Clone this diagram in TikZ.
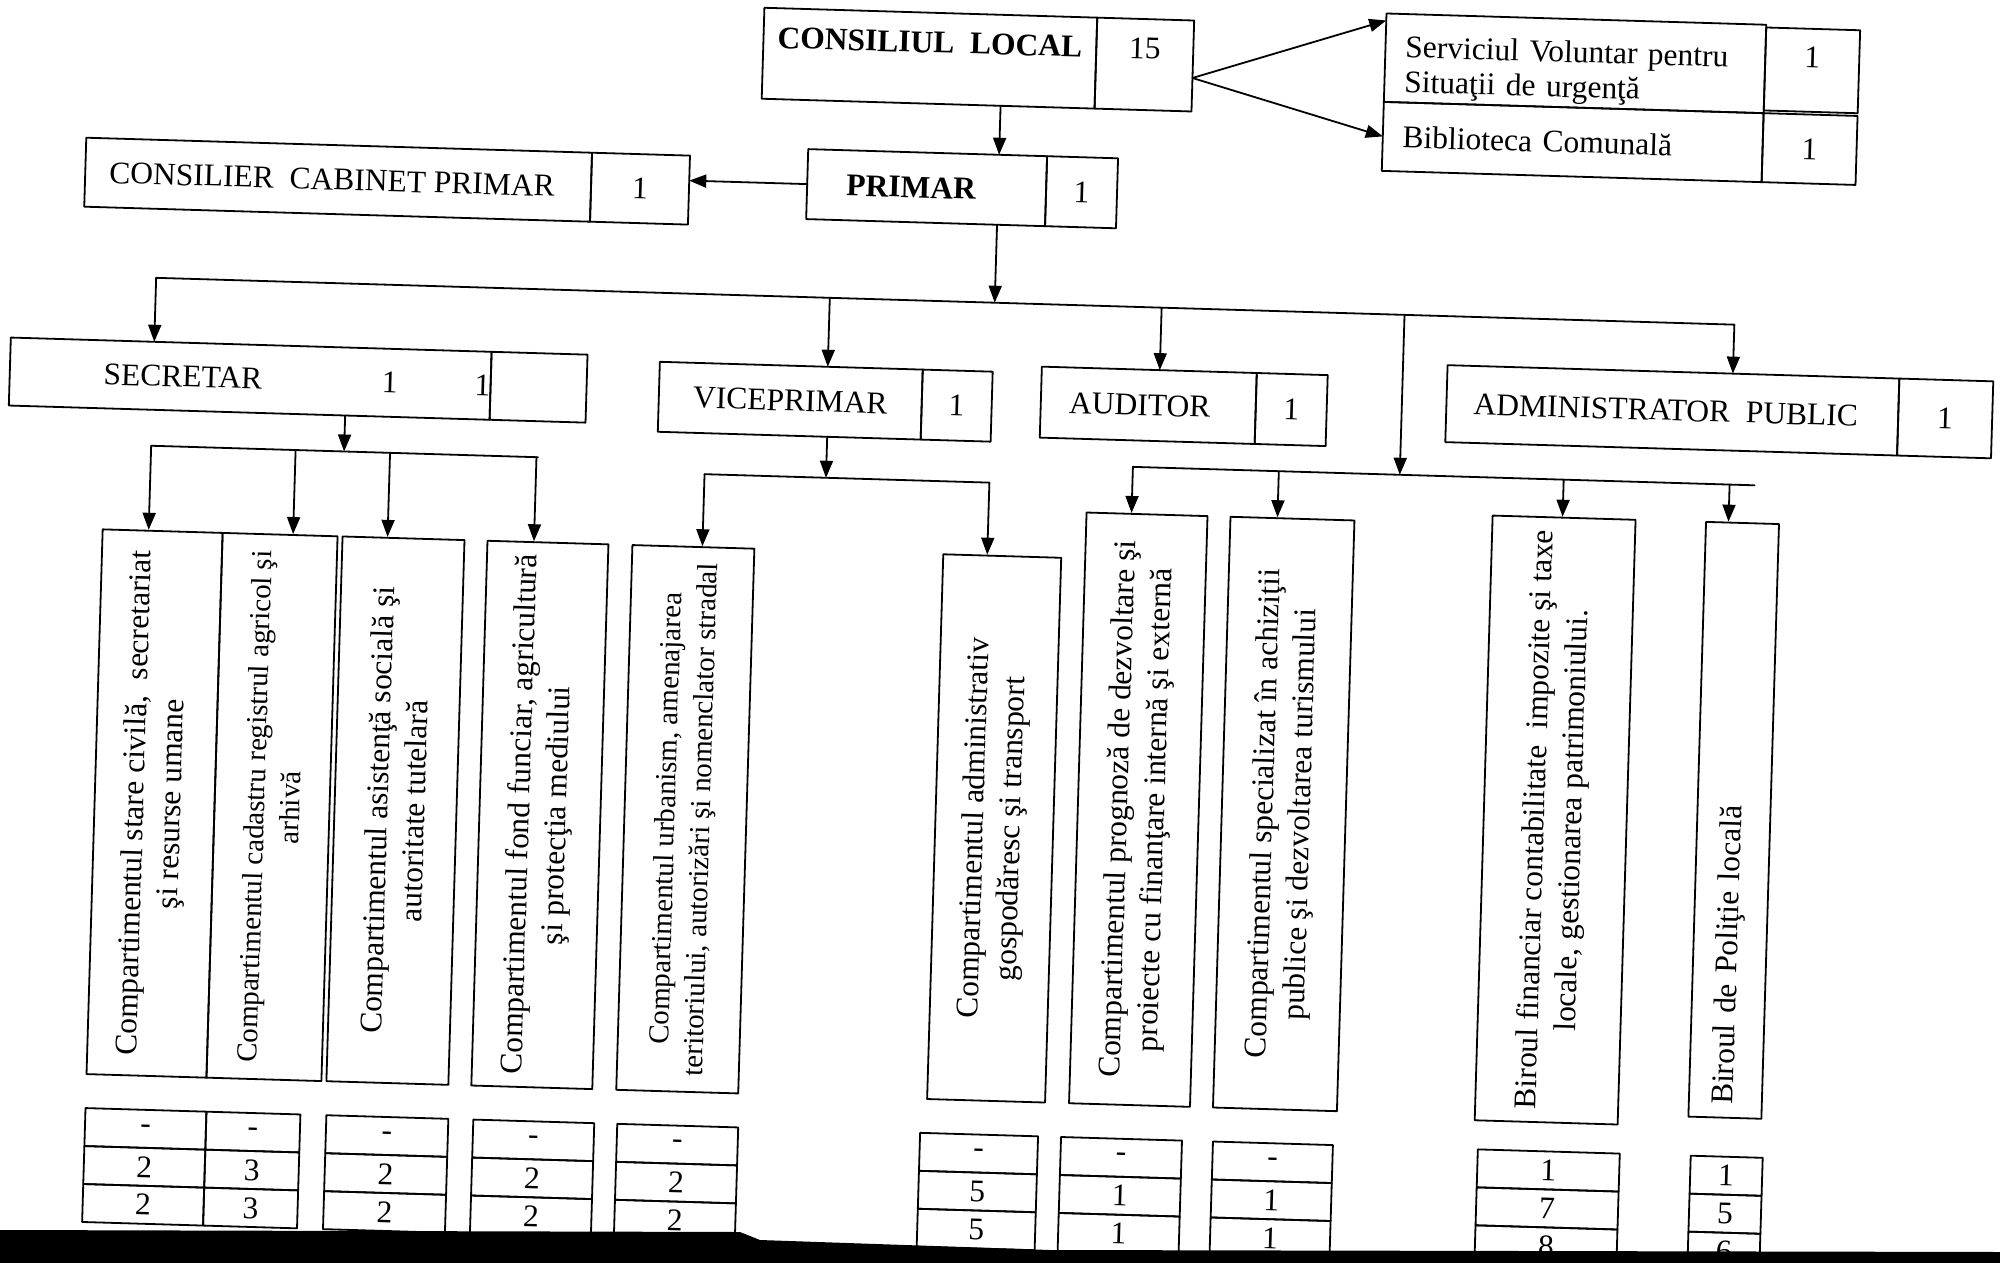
\documentclass[tikz,border=0pt]{standalone}
\usepackage{fontspec}
\setmainfont{Liberation Serif}
\usepackage{tikz}
\usetikzlibrary{arrows.meta,positioning}
\newcommand{\orgfont}{\fontsize{31.5}{33}\selectfont}
\newcommand{\orgfontv}{\fontsize{31.5}{37}\selectfont}
\newcommand{\orgfontvs}{\fontsize{29}{35}\selectfont}

\tikzset{
  hbox/.style={draw, outer sep=0pt, inner xsep=6pt, font=\orgfont},
  numbox/.style={draw, outer sep=0pt, font=\orgfont},
  vbox/.style={draw, rotate=90, align=center, inner sep=4pt, font=\orgfontv},
  cell/.style={draw, outer sep=0pt, inner sep=0pt, minimum height=38pt, font=\orgfont}
}

\begin{document}
\begin{tikzpicture}[line cap=round,line join=round,>={Triangle[length=17pt,width=13pt]},x=1pt,y=-1pt,line width=1.8pt]
\useasboundingbox (0,0) rectangle (2000,1263);
\begin{scope}[rotate around={-1.7:(1000,631.5)},transform shape]
% top level
\node[hbox,minimum width=333pt,minimum height=91pt,text depth=32pt,font=\orgfont\bfseries] (cl) at (912.5,60.5) {CONSILIUL\ \ LOCAL};
\node[numbox,minimum width=97pt,minimum height=91pt,text depth=32pt,right=0pt of cl] (cln) {15};
\node[hbox,minimum width=380pt,minimum height=83pt,text width=340pt,inner xsep=20pt,align=left,text height=40pt,font=\fontsize{31.5}{35}\selectfont] (sv) at (1558,46.5) {Serviciul Voluntar pentru\\Situaţii de urgenţă};
\node[numbox,minimum width=94pt,minimum height=83pt,text depth=27pt,right=0pt of sv] (svn) {1};
\node[hbox,minimum width=380pt,minimum height=69pt,text width=340pt,inner xsep=20pt,align=left,below=0pt of sv] (bib) {Biblioteca Comunală};
\node[numbox,minimum width=94pt,minimum height=69pt,right=0pt of bib] (bibn) {1};
\node[hbox,minimum width=239pt,minimum height=70pt,font=\orgfont\bfseries] (pr) at (913.5,190) {PRIMAR\hspace*{31pt}};
\node[numbox,minimum width=71pt,minimum height=70pt,right=0pt of pr] (prn) {1};
\node[hbox,minimum width=506pt,minimum height=69pt] (cc) at (325,199.5) {CONSILIER\ \ CABINET PRIMAR\hspace*{12pt}};
\node[numbox,minimum width=98pt,minimum height=69pt,right=0pt of cc] (ccn) {1};
% second level
\node[hbox,minimum width=481pt,minimum height=68pt] (sec) at (243,401) {\hspace*{78pt}SECRETAR\hspace{120pt}1\hspace{77pt}\rlap{1}};
\node[numbox,minimum width=96pt,minimum height=68pt,right=0pt of sec] (secn) {};
\node[hbox,minimum width=263pt,minimum height=70pt] (vp) at (783.5,407) {VICEPRIMAR};
\node[numbox,minimum width=70pt,minimum height=70pt,right=0pt of vp] (vpn) {1};
\node[hbox,minimum width=215pt,minimum height=71pt] (au) at (1141.5,401) {AUDITOR\hspace*{17pt}};
\node[numbox,minimum width=71pt,minimum height=71pt,right=0pt of au] (aun) {1};
\node[hbox,minimum width=452pt,minimum height=77pt] (ad) at (1665.5,390.5) {ADMINISTRATOR\ \ PUBLIC\hspace*{13pt}};
\node[numbox,minimum width=94pt,minimum height=77pt,right=0pt of ad] (adn) {1};
% compartments
\node[vbox,minimum width=545pt,minimum height=120pt] (v1) at (160,828.5) {Compartimentul stare civilă,\ \ secretariat\\şi resurse umane};
\node[vbox,minimum width=545pt,minimum height=115pt,font=\orgfontvs] (v2) at (277.5,828.5) {Compartimentul cadastru registrul agricol şi\\arhivă};
\node[vbox,minimum width=545pt,minimum height=122pt] (v3) at (401,828.5) {Compartimentul asistenţă socială şi\\autoritate tutelară};
\node[vbox,minimum width=545pt,minimum height=121pt] (v4) at (545.5,828.5) {Compartimentul fond funciar, agricultură\\şi protecţia mediului};
\node[vbox,minimum width=545pt,minimum height=122pt,font=\orgfontvs] (v5) at (691,828.5) {Compartimentul urbanism, amenajarea\\teritoriului, autorizări şi nomenclator stradal};
\node[vbox,minimum width=545pt,minimum height=118pt] (v6) at (1000,828.5) {Compartimentul administrativ\\gospodăresc şi transport};
\node[vbox,minimum width=591pt,minimum height=121pt] (v7) at (1143.5,805.5) {Compartimentul prognoză de dezvoltare şi\\proiecte cu finanţare internă şi externă};
\node[vbox,minimum width=591pt,minimum height=124pt] (v8) at (1289,805.5) {Compartimentul specializat în achiziţii\\publice şi dezvoltarea turismului};
\node[vbox,minimum width=605pt,minimum height=143pt] (v9) at (1560.5,803.5) {Biroul financiar contabilitate\ \ impozite şi taxe\\locale, gestionarea patrimoniului.};
\node[vbox,minimum height=73pt,text width=569pt,inner xsep=13pt,align=left] (v10) at (1739,798.5) {Biroul de Poliţie locală};
% posts
\foreach \n/\x/\w/\ra/\rb/\rc in {1/160.5/121pt/-/2/2, 2/268/94pt/-/3/3, 3/402/122pt/-/2/2, 4/548.5/121pt/-/2/2, 5/692.5/121pt/-/2/2, 6/994/118pt/-/5/5, 7/1136.5/121pt/-/1/1, 8/1288/120pt/-/1/1, 9/1564/142pt/1/7/8, 10/1742/72pt/1/5/6}{
  \node[cell,minimum width=\w] (t\n-1) at (\x,1154) {\ra};
  \node[cell,minimum width=\w,below=0pt of t\n-1] (t\n-2) {\rb};
  \node[cell,minimum width=\w,below=0pt of t\n-2] (t\n-3) {\rc};
}
% connectors
\coordinate (spine) at (985,0);
\coordinate (bus1w) at (146,303);
\coordinate (bus1e) at (1725,303);
\coordinate (bus2w) at (146,471);
\coordinate (bus2e) at (533,471);
\coordinate (bus3w) at (700,483);
\coordinate (bus3e) at (985,483);
\coordinate (bus4w) at (1128,463);
\coordinate (bus4e) at (1750,463);
\coordinate (link) at (1395,463);
\draw[->] (cl.south -| spine) -- (pr.north -| spine);
\draw[->] (pr.west) -- (pr.west -| ccn.east);
\draw[->] ([yshift=-12pt]cln.east) -- ([yshift=-7pt]sv.north west);
\draw[->] ([yshift=-12pt]cln.east) -- (bib.west);
\draw[->] (pr.south -| spine) -- (spine |- bus1w);
\draw (bus1w) -- (bus1e);
\draw[->] (bus1w) -- (bus1w |- sec.north);
\draw[->] ([xshift=36.5pt]vp.north |- bus1w) -- ([xshift=36.5pt]vp.north);
\draw[->] ([xshift=10.5pt]au.north |- bus1w) -- ([xshift=10.5pt]au.north);
\draw[->] (bus1e) -- (bus1e |- ad.north);
\draw[->] (link |- bus1w) -- (link);
\draw[->] ([xshift=96pt]sec.south) -- ([xshift=96pt]sec.south |- bus2w);
\draw (bus2w) -- (bus2e);
\foreach \bx/\sh in {v1/-14pt,v2/13pt,v3/-16pt,v4/-14pt}
  \draw[->] ([xshift=\sh]\bx.east |- bus2w) -- ([xshift=\sh]\bx.east);
\draw[->] ([xshift=38pt]vp.south) -- ([xshift=38pt]vp.south |- bus3w);
\draw (bus3w) -- (bus3e);
\draw[->] (bus3w) -- (bus3w |- v5.east);
\draw[->] (bus3e) -- (bus3e |- v6.east);
\draw (bus4w) -- (bus4e);
\foreach \bx/\sh in {v7/-15.5pt,v8/-15pt,v9/-1.5pt,v10/-14pt}
  \draw[->] ([xshift=\sh]\bx.east |- bus4w) -- ([xshift=\sh]\bx.east);
\end{scope}
\fill (0,1230) -- (740,1232) -- (760,1240) -- (1050,1250) -- (2000,1252) -- (2000,1263) -- (0,1263) -- cycle;
\end{tikzpicture}
\end{document}
